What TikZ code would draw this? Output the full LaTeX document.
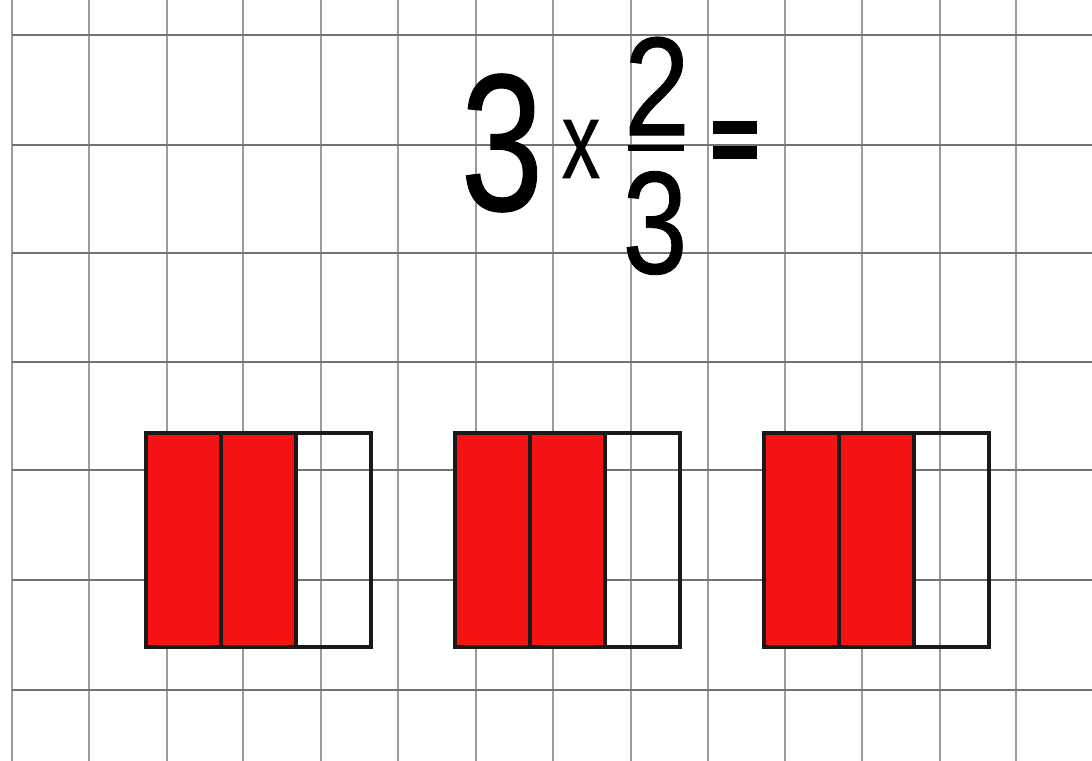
\documentclass[tikz,border=0pt]{standalone}
\usepackage{fontspec}
\setmainfont{Liberation Sans}
\newfontfamily\sumfont[FakeBold=0.6]{Liberation Sans}
\definecolor{fillred}{RGB}{245,18,18}
\definecolor{gridgray}{RGB}{155,155,155}
\definecolor{rulegray}{RGB}{115,115,115}
\begin{document}
\begin{tikzpicture}[x=0.025cm,y=-0.025cm,
    part/.style={draw=black!90, line width=2.8pt},
    shaded/.style={part, fill=fillred},
    bigtext/.style={inner sep=0pt, anchor=center, font=\sumfont}]
        \useasboundingbox (0,0) rectangle (1092,761);
        \fill[white] (0,0) rectangle (1092,761);
        
        % squared paper
        \foreach \gx in {12,89,167,243,321,398,476,553,631,708,785,862,940,1016}
            \draw[gridgray, line width=1.1pt] (\gx,0) -- (\gx,761);
        \foreach \gy in {35,145,253,362,470,580,690}
            \draw[rulegray, line width=1.4pt] (12,\gy) -- (1092,\gy);
        
        % 3 x 2/3 =
        \node[bigtext] (whole) at (502,143) {\scalebox{0.76}[1]{\fontsize{139}{139}\selectfont 3}};
        \node[bigtext] (times) at (581,149) {\scalebox{0.7}[1]{\fontsize{78}{78}\selectfont x}};
        \node[bigtext] (numer) at (657,86) {\scalebox{0.84}[1]{\fontsize{100}{100}\selectfont 2}};
        \node[bigtext] (denom) at (655,223) {\scalebox{0.8}[1]{\fontsize{104}{104}\selectfont 3}};
        \draw[line width=4.5pt] (628,148) -- (684,148);
        \fill (713,121) rectangle (757,134);
        \fill (713,146) rectangle (757,159);
        
        % three wholes, two thirds shaded in each
        \foreach \bx in {146,455,764} {
            \filldraw[shaded] (\bx,433) rectangle ++(75,214);
            \filldraw[shaded] (\bx+75,433) rectangle ++(75,214);
            \draw[part] (\bx+150,433) rectangle ++(75,214);
        }
    \end{tikzpicture}
\end{document}
